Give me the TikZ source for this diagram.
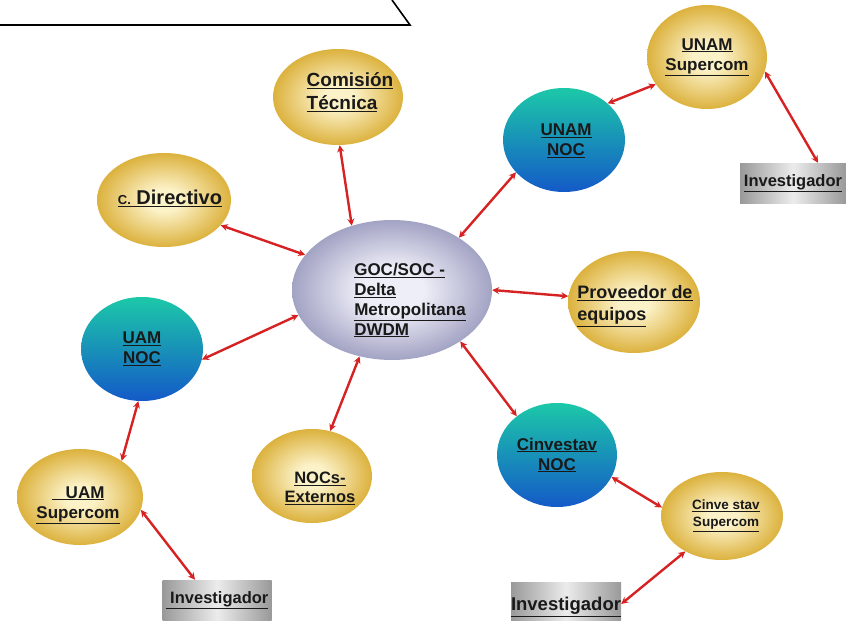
\documentclass[tikz,border=0pt]{standalone}
\usepackage{fontspec}
\setmainfont{Liberation Sans}
\usetikzlibrary{shapes.geometric,arrows.meta}
\definecolor{goldout}{RGB}{184,136,26}
\definecolor{goldmid}{RGB}{220,178,62}
\definecolor{goldin}{RGB}{252,242,200}
\definecolor{tealtop}{RGB}{28,200,168}
\definecolor{tealbot}{RGB}{20,90,200}
\definecolor{lilaout}{RGB}{96,96,150}
\definecolor{lilain}{RGB}{238,238,248}
\definecolor{linkred}{RGB}{214,34,34}
\pgfdeclareradialshading{goldball}{\pgfpoint{0bp}{0bp}}{color(0bp)=(goldin); color(6bp)=(goldin); color(25bp)=(goldmid); color(50bp)=(goldout)}
\pgfdeclareradialshading{lilaball}{\pgfpoint{0bp}{0bp}}{color(0bp)=(lilain); color(8bp)=(lilain); color(40bp)=(lilaout); color(50bp)=(lilaout)}
\newcommand{\ulx}[1]{\underline{#1}}

\tikzset{
  bub/.style={ellipse, inner sep=0pt},
  gold/.style={bub, shading=goldball},
  noc/.style={bub, top color=tealtop, bottom color=tealbot},
  hub/.style={bub, shading=lilaball},
  inv/.style={rectangle, inner sep=0pt, left color=gray!80, right color=gray!80, middle color=gray!15,
    font=\bfseries\fontsize{16.5}{18}\selectfont, text=black!90},
  txt/.style={font=\bfseries\fontsize{17}{20}\selectfont, text=black!90, align=center},
  link/.style={draw=linkred, line width=2.4pt, {Stealth[length=7pt,width=7pt]}-{Stealth[length=7pt,width=7pt]}}
}

\begin{document}
\begin{tikzpicture}[x=1pt,y=-1pt]
  \useasboundingbox (0,0) rectangle (846,621);
  \draw[line width=1.6pt] (0,25) -- (410,25) -- (392,0);

  % centre
  \node[hub, minimum width=200pt, minimum height=140pt,
    label={[txt,align=left,xshift=18pt,yshift=-10pt]center:{\ulx{GOC/SOC -}\\\ulx{Delta}\\\ulx{Metropolitana}\\\ulx{DWDM}}}] (goc) at (392,290) {};

  \node[gold, minimum width=130pt, minimum height=96pt,
    label={[txt,font=\bfseries\fontsize{19}{23}\selectfont,align=left,xshift=12pt,yshift=5pt]center:{\ulx{Comisión}\\\ulx{Técnica}}}] (com) at (338,97) {};
  \node[gold, minimum width=134pt, minimum height=94pt,
    label={[txt,font=\bfseries\fontsize{20}{23}\selectfont,xshift=6pt,yshift=2pt]center:{\ulx{{\fontsize{13}{15}\selectfont C.} Directivo}}}] (dir) at (164,200) {};
  \node[gold, minimum width=132pt, minimum height=102pt,
    label={[txt,font=\bfseries\fontsize{18}{22}\selectfont,align=left,xshift=1pt,yshift=-4pt]center:{\ulx{Proveedor de}\\\ulx{equipos}}}] (prov) at (634,302) {};
  \node[gold, minimum width=120pt, minimum height=94pt,
    label={[txt,font=\bfseries\fontsize{16.5}{19}\selectfont,xshift=8pt,yshift=-12pt]center:{\ulx{NOCs-}\\\ulx{Externos}}}] (ext) at (312,476) {};

  \node[noc, minimum width=122pt, minimum height=104pt,
    label={[txt,xshift=2pt,yshift=-1pt]center:{\ulx{UNAM}\\\ulx{NOC}}}] (unamnoc) at (564,140) {};
  \node[gold, minimum width=120pt, minimum height=104pt,
    label={[txt]center:{\ulx{UNAM}\\\ulx{Supercom}}}] (unamsc) at (707,57) {};
  \node[inv, minimum width=106pt, minimum height=40pt] (invA) at (793,183) {\ulx{Investigador}};

  \node[noc, minimum width=122pt, minimum height=104pt,
    label={[txt]center:{\ulx{UAM}\\\ulx{NOC}}}] (uamnoc) at (142,349) {};
  \node[gold, minimum width=126pt, minimum height=96pt,
    label={[txt,xshift=-2pt,yshift=-8pt]center:{\ulx{\ \ \ UAM}\\\ulx{Supercom}}}] (uamsc) at (80,497) {};
  \node[inv, minimum width=109pt, minimum height=40pt] (invB) at (217,600) {\ulx{\ Investigador}};

  \node[noc, minimum width=120pt, minimum height=104pt,
    label={[txt]center:{\ulx{Cinvestav}\\\ulx{NOC}}}] (cinnoc) at (557,455) {};
  \node[gold, minimum width=122pt, minimum height=88pt,
    label={[txt,font=\bfseries\fontsize{13.5}{17}\selectfont,xshift=4pt]center:{\ulx{Cinve stav}\\\ulx{Supercom}}}] (cinsc) at (722,516) {};
  \node[inv, minimum width=108pt, minimum height=44pt, font=\bfseries\fontsize{18.5}{20}\selectfont,
    text depth=0pt] (invC) at (566,604) {\ulx{Investigador}};

  \draw[link] (com.-88) -- (goc.122);
  \draw[link] (dir.-24) -- (goc.158);
  \draw[link] (unamnoc.214) -- (goc.38);
  \draw[link] (unamnoc.40) -- (unamsc.208);
  \draw[link] (unamsc.-14) -- ([xshift=25pt]invA.north);
  \draw[link] (prov.175) -- (goc.east);
  \draw[link] (uamnoc.-10) -- (goc.195);
  \draw[link] (uamnoc.-94) -- (uamsc.41);
  \draw[link] (uamsc.-12) -- ([xshift=-22pt]invB.north);
  \draw[link] (ext.68) -- (goc.244);
  \draw[link] (cinnoc.136) -- (goc.-37);
  \draw[link] (cinnoc.-22) -- (cinsc.172);
  \draw[link] (cinsc.224) -- (invC.east);
\end{tikzpicture}
\end{document}
